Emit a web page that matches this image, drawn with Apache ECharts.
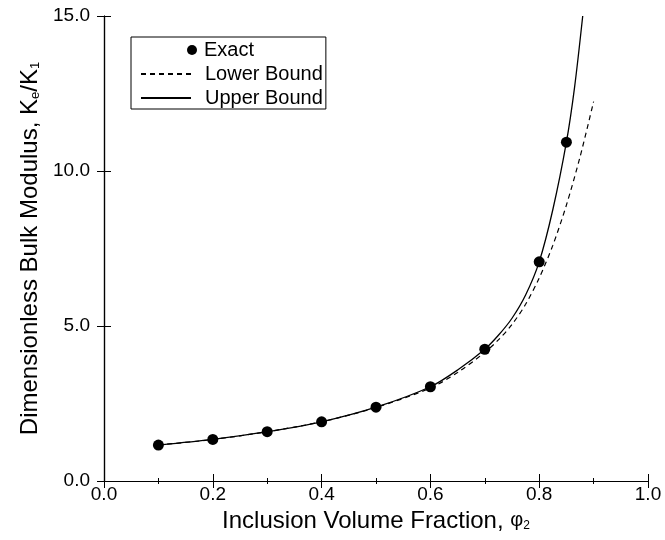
<!DOCTYPE html>
<html>
<head>
<meta charset="utf-8">
<script src="https://cdn.jsdelivr.net/npm/echarts@6/dist/echarts.min.js"></script>
<style>
html,body{margin:0;padding:0;background:#fff;}
#c{width:665px;height:540px;}
</style>
</head>
<body>
<div id="c"></div>
<script>
// Exact solution points
var exactX = [0.1, 0.2, 0.3, 0.4, 0.5, 0.6, 0.7, 0.8, 0.85];
var exactY = [1.16, 1.34, 1.59, 1.91, 2.38, 3.04, 4.25, 7.07, 10.93];
// Lower bound (dashed)
var lowerX = [0.1, 0.2, 0.3, 0.4, 0.5, 0.6, 0.65, 0.7, 0.725, 0.75, 0.775, 0.8, 0.825, 0.85, 0.875, 0.9];
var lowerY = [1.16, 1.34, 1.59, 1.91, 2.37, 3.0, 3.5, 4.15, 4.55, 5.05, 5.7, 6.55, 7.6, 8.9, 10.45, 12.24];
// Upper bound (solid)
var upperX = [0.1, 0.2, 0.3, 0.4, 0.5, 0.6, 0.65, 0.7, 0.725, 0.75, 0.775, 0.8, 0.825, 0.85, 0.865, 0.88];
var upperY = [1.16, 1.34, 1.59, 1.91, 2.38, 3.04, 3.58, 4.25, 4.7, 5.25, 6.0, 7.07, 8.75, 10.93, 12.7, 15.0];
// Axis ticks
var xTicks = [0.0, 0.2, 0.4, 0.6, 0.8, 1.0];
var yTicks = [0.0, 5.0, 10.0, 15.0];

function pairs(xs, ys){ return xs.map(function(x,i){ return [x, ys[i]]; }); }

var FONT = 'Liberation Sans, Arial, sans-serif';
var chart = echarts.init(document.getElementById('c'), null, {renderer:'canvas'});

var axisLineStyle = {color:'#000', width:1.2};
var option = {
  backgroundColor:'#fff',
  animation:false,
  textStyle:{fontFamily:FONT, color:'#000'},
  grid:{left:104, right:17, top:16, bottom:59, containLabel:false},
  legend:[
    {
      data:['Exact'],
      left:187, top:40, padding:0,
      itemWidth:10, itemHeight:10,
      icon:'circle',
      itemStyle:{color:'#000', opacity:1},
      textStyle:{fontFamily:FONT, fontSize:20, color:'#000', padding:[0,0,0,2]}
    },
    {
      data:['Lower Bound','Upper Bound'],
      orient:'vertical',
      left:131, top:37,
      padding:[27,3,1,9],
      itemGap:4,
      itemWidth:50, itemHeight:10,
      borderColor:'#000', borderWidth:1,
      itemStyle:{color:'rgba(0,0,0,0)', borderWidth:0, opacity:0},
      textStyle:{fontFamily:FONT, fontSize:20, color:'#000', padding:[0,0,0,9]}
    }
  ],
  xAxis:[
    {
      type:'value', min:xTicks[0], max:xTicks[xTicks.length-1], interval:0.2,
      position:'bottom',
      name:'Inclusion Volume Fraction, {phi|φ}{sub|2}',
      nameLocation:'middle', nameGap:22,
      nameTextStyle:{fontFamily:FONT, fontSize:24, color:'#000',
        rich:{phi:{fontFamily:FONT, fontSize:20, color:'#000'}, sub:{fontFamily:FONT, fontSize:12, color:'#000', padding:[10,0,0,0]}}},
      axisLine:{show:true, lineStyle:axisLineStyle},
      axisTick:{show:true, inside:true, length:7, lineStyle:{color:'#000', width:1}},
      minorTick:{show:true, splitNumber:2, length:3, lineStyle:{color:'#000', width:1}},
      splitLine:{show:false},
      axisLabel:{show:true, margin:4, fontFamily:FONT, fontSize:19, color:'#000',
        formatter:function(v){ return v.toFixed(1); }}
    },
    {
      type:'value', min:xTicks[0], max:xTicks[xTicks.length-1], interval:0.2,
      position:'top',
      axisLine:{show:true, lineStyle:axisLineStyle},
      axisTick:{show:true, inside:true, length:7, lineStyle:{color:'#000', width:1}},
      minorTick:{show:true, splitNumber:2, length:3, lineStyle:{color:'#000', width:1}},
      splitLine:{show:false},
      axisLabel:{show:false}
    }
  ],
  yAxis:[
    {
      type:'value', min:yTicks[0], max:yTicks[yTicks.length-1], interval:5,
      position:'left',
      name:'Dimensionless Bulk Modulus, K{sub|e}/K{sub|1}',
      nameLocation:'middle', nameGap:52, nameRotate:90,
      nameTextStyle:{fontFamily:FONT, fontSize:24, color:'#000',
        rich:{sub:{fontFamily:FONT, fontSize:13, color:'#000', padding:[10,0,0,0]}}},
      axisLine:{show:true, lineStyle:axisLineStyle},
      axisTick:{show:true, inside:true, length:7, lineStyle:{color:'#000', width:1}},
      splitLine:{show:false},
      axisLabel:{show:true, margin:14, fontFamily:FONT, fontSize:19, color:'#000',
        formatter:function(v){ return v.toFixed(1); }}
    },
    {
      type:'value', min:yTicks[0], max:yTicks[yTicks.length-1], interval:5,
      position:'right',
      axisLine:{show:true, lineStyle:axisLineStyle},
      axisTick:{show:true, inside:true, length:7, lineStyle:{color:'#000', width:1}},
      splitLine:{show:false},
      axisLabel:{show:false}
    }
  ],
  series:[
    {
      name:'Lower Bound', type:'line', xAxisIndex:0, yAxisIndex:0,
      data:pairs(lowerX, lowerY),
      showSymbol:false, symbol:'none',
      smooth:0.3,
      lineStyle:{color:'#000', width:1.2, type:[5,4]},
      itemStyle:{color:'#000'},
      clip:true
    },
    {
      name:'Upper Bound', type:'line', xAxisIndex:0, yAxisIndex:0,
      data:pairs(upperX, upperY),
      showSymbol:false, symbol:'none',
      smooth:0.3,
      lineStyle:{color:'#000', width:1.3, type:'solid'},
      itemStyle:{color:'#000'},
      clip:true
    },
    {
      name:'Exact', type:'scatter', xAxisIndex:0, yAxisIndex:0,
      data:pairs(exactX, exactY),
      symbol:'circle', symbolSize:11,
      itemStyle:{color:'#000', opacity:1},
      z:5
    }
  ]
};
chart.setOption(option);
</script>
</body>
</html>
